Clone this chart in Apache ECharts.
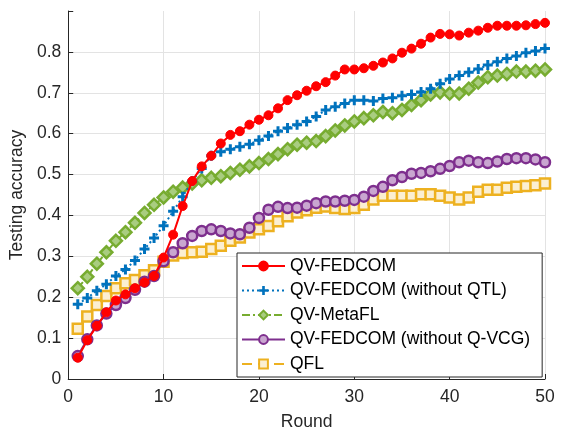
<!DOCTYPE html>
<html>
<head>
<meta charset="utf-8">
<script src="https://cdn.jsdelivr.net/npm/echarts@6/dist/echarts.min.js"></script>
<style>html,body{margin:0;padding:0;background:#fff}#c{width:561px;height:436px}</style>
</head>
<body>
<div id="c"></div>
<script>
const rounds = Array.from({length: 50}, (_, i) => i + 1);
const seriesNames = ['QV-FEDCOM', 'QV-FEDCOM (without QTL)', 'QV-MetaFL', 'QV-FEDCOM (without Q-VCG)', 'QFL'];
const qvFedcom = [0.052,0.095,0.13,0.163,0.192,0.207,0.222,0.236,0.252,0.297,0.353,0.423,0.484,0.52,0.546,0.576,0.597,0.606,0.622,0.634,0.645,0.662,0.682,0.694,0.705,0.716,0.726,0.742,0.757,0.757,0.76,0.766,0.774,0.784,0.798,0.808,0.82,0.835,0.844,0.843,0.84,0.847,0.852,0.859,0.864,0.864,0.864,0.865,0.868,0.871];
const noQtl = [0.183,0.198,0.216,0.232,0.252,0.268,0.29,0.318,0.345,0.375,0.41,0.446,0.484,0.515,0.546,0.556,0.562,0.568,0.574,0.584,0.594,0.606,0.614,0.622,0.63,0.642,0.658,0.666,0.674,0.682,0.682,0.68,0.686,0.688,0.693,0.696,0.702,0.71,0.722,0.734,0.742,0.75,0.758,0.768,0.776,0.784,0.79,0.798,0.802,0.808];
const metaFl = [0.222,0.25,0.282,0.31,0.338,0.359,0.382,0.406,0.426,0.444,0.458,0.468,0.478,0.486,0.492,0.496,0.504,0.512,0.52,0.528,0.538,0.55,0.562,0.573,0.578,0.582,0.594,0.608,0.62,0.63,0.638,0.645,0.653,0.65,0.658,0.67,0.682,0.696,0.701,0.698,0.698,0.71,0.725,0.738,0.742,0.746,0.752,0.752,0.754,0.757];
const noQvcg = [0.056,0.097,0.131,0.16,0.181,0.198,0.218,0.238,0.252,0.288,0.31,0.332,0.35,0.362,0.366,0.362,0.356,0.354,0.37,0.394,0.414,0.421,0.418,0.419,0.424,0.43,0.434,0.434,0.436,0.438,0.446,0.46,0.47,0.486,0.494,0.502,0.504,0.508,0.514,0.521,0.53,0.534,0.53,0.528,0.532,0.538,0.54,0.54,0.537,0.53];
const qfl = [0.123,0.153,0.181,0.203,0.222,0.234,0.242,0.254,0.266,0.287,0.302,0.308,0.31,0.311,0.318,0.326,0.338,0.346,0.358,0.366,0.374,0.386,0.398,0.407,0.413,0.419,0.422,0.418,0.416,0.418,0.426,0.439,0.448,0.448,0.448,0.448,0.452,0.452,0.448,0.444,0.439,0.444,0.458,0.463,0.463,0.468,0.47,0.472,0.474,0.478];
const xTicks = [0, 10, 20, 30, 40, 50];
const yTickLabels = ['0','0.1','0.2','0.3','0.4','0.5','0.6','0.7','0.8'];

const FONT = 'Liberation Sans, Arial, sans-serif';
const TXT = '#262626';
const FS = 17.5;
const plusPath = 'path://M3.5,0h3v3.5h3.5v3h-3.5v3.5h-3v-3.5h-3.5v-3h3.5z';
const pair = arr => arr.map((v, i) => [rounds[i], v]);

const chart = echarts.init(document.getElementById('c'), null, {renderer: 'canvas'});
chart.setOption({
  animation: false,
  backgroundColor: '#fff',
  grid: {left: 68, right: 16, top: 11, bottom: 50.5, containLabel: false},
  xAxis: {
    type: 'value', min: 0, max: 50, interval: 10,
    name: 'Round', nameLocation: 'middle', nameGap: 34,
    nameTextStyle: {fontFamily: FONT, fontSize: FS, color: TXT},
    axisLine: {lineStyle: {color: TXT, width: 1}},
    axisTick: {inside: true, length: 5, lineStyle: {color: TXT}},
    axisLabel: {fontFamily: FONT, fontSize: FS, color: TXT, margin: 9,
      formatter: v => xTicks.includes(v) ? String(v) : ''},
    splitLine: {show: true, lineStyle: {color: '#e3e3e3', width: 1}}
  },
  yAxis: {
    type: 'value', min: 0, max: 0.9, interval: 0.1,
    name: 'Testing accuracy', nameLocation: 'middle', nameGap: 34,
    nameTextStyle: {fontFamily: FONT, fontSize: FS, color: TXT},
    axisLine: {show: true, lineStyle: {color: TXT, width: 1}},
    axisTick: {show: true, inside: true, length: 5, lineStyle: {color: TXT}},
    axisLabel: {fontFamily: FONT, fontSize: FS, color: TXT, margin: 7,
      formatter: v => { const i = Math.round(v * 10); return i < yTickLabels.length ? yTickLabels[i] : ''; }},
    splitLine: {show: true, showMaxLine: false, lineStyle: {color: '#e3e3e3', width: 1}}
  },
  legend: {
    orient: 'vertical', left: 237, top: 253,
    backgroundColor: '#fff', borderColor: TXT, borderWidth: 1,
    padding: [4, 12, 4, 4], itemGap: 6.5, itemWidth: 43, itemHeight: 11,
    textStyle: {fontFamily: FONT, fontSize: FS, color: '#000'},
    data: seriesNames
  },
  series: [
    {name: seriesNames[0], type: 'line', data: pair(qvFedcom), z: 5,
     symbol: 'circle', symbolSize: 9,
     lineStyle: {color: '#ff0000', width: 2},
     itemStyle: {color: '#ff0000', borderColor: '#ff0000', borderWidth: 1}},
    {name: seriesNames[1], type: 'line', data: pair(noQtl), z: 4,
     symbol: plusPath, symbolSize: 10,
     lineStyle: {color: '#0072BD', width: 2, type: [2, 3]},
     itemStyle: {color: '#0072BD', borderWidth: 0}},
    {name: seriesNames[2], type: 'line', data: pair(metaFl), z: 3,
     symbol: 'diamond', symbolSize: 12,
     lineStyle: {color: '#77AC30', width: 2, type: [8, 3, 2, 3]},
     itemStyle: {color: '#a9cd80', borderColor: '#77AC30', borderWidth: 2.5}},
    {name: seriesNames[3], type: 'line', data: pair(noQvcg), z: 2,
     symbol: 'circle', symbolSize: 10,
     lineStyle: {color: '#7E2F8E', width: 2},
     itemStyle: {color: '#c9a6d0', borderColor: '#7E2F8E', borderWidth: 2.5}},
    {name: seriesNames[4], type: 'line', data: pair(qfl), z: 1,
     symbol: 'rect', symbolSize: 10,
     lineStyle: {color: '#EDB120', width: 2, type: [10, 6]},
     itemStyle: {color: '#fbefd2', borderColor: '#EDB120', borderWidth: 2.5}}
  ]
});
</script>
</body>
</html>
